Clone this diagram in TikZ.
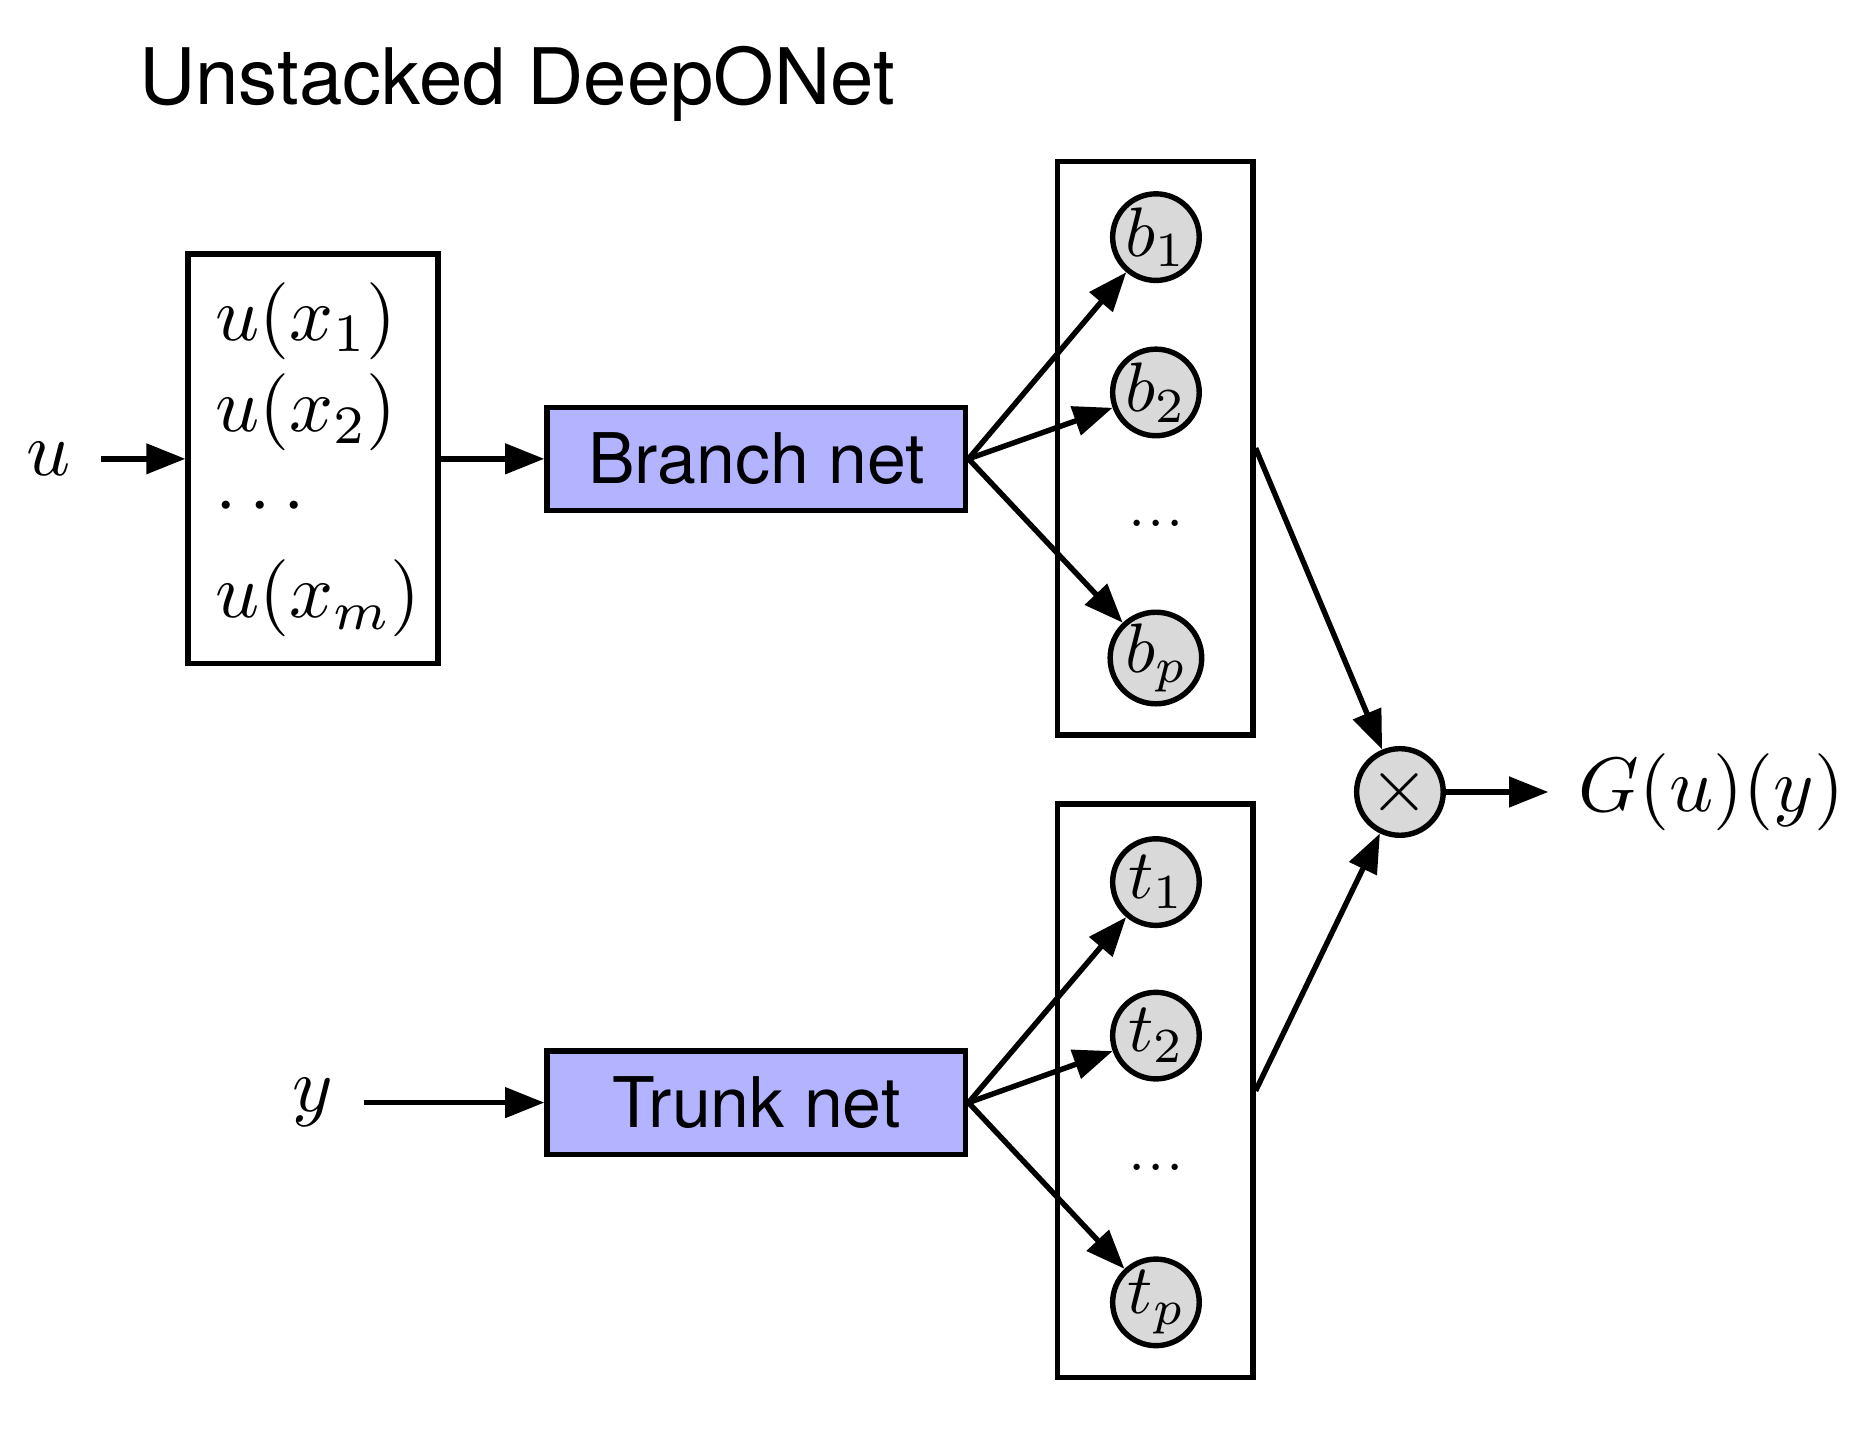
\documentclass[tikz,border=0pt]{standalone}
\usepackage{fontspec}
\setsansfont{TeX Gyre Heros}
\DeclareFontFamily{OML}{cmm}{\skewchar\font'177}
\DeclareFontShape{OML}{cmm}{m}{it}{<-11>cmmi5 <11-16>cmmi7 <16->cmmi10}{}
\DeclareFontShape{OT1}{cmr}{m}{n}{<-11>cmr5 <11-16>cmr7 <16->cmr10}{}
\DeclareFontShape{OMS}{cmsy}{m}{n}{<-11>cmsy5 <11-16>cmsy7 <16->cmsy10}{}
\DeclareFontShape{OMX}{cmex}{m}{n}{<->cmex10}{}
\DeclareMathSizes{18.5}{18.5}{12.95}{9.25}
\usetikzlibrary{arrows.meta}
\definecolor{netfill}{RGB}{179,179,255}
\definecolor{cfill}{RGB}{217,217,217}
\begin{document}
\begin{tikzpicture}[x=0.01cm,y=-0.01cm,
  mfont/.style={font=\fontsize{18.5}{22}\selectfont},
  txt/.style={inner sep=0pt},
  nbox/.style={draw, line width=1.3pt, fill=netfill, minimum width=3.53cm, minimum height=0.87cm, inner sep=0pt, font=\sffamily\fontsize{16.75}{20}\selectfont},
  colbox/.style={draw, line width=1.3pt, minimum width=1.645cm, minimum height=4.835cm, inner sep=0pt},
  unit/.style={circle, draw, line width=1.3pt, fill=cfill, minimum size=0.73cm, inner sep=0pt, font=\fontsize{16.8}{20}\selectfont},
  conn/.style={-{Triangle[length=0.33cm,width=0.25cm]}, line width=1.3pt},
  dotsf/.style={inner sep=0pt, font=\fontsize{18.5}{22}\selectfont},
]
\useasboundingbox (0,0) rectangle (1568,1208);

% title
\node[txt, anchor=base west, font=\sffamily\fontsize{18.7}{22}\selectfont] (title) at (117,88) {Unstacked DeepONet};

% input box
\node[draw, line width=1.3pt, minimum width=2.105cm, minimum height=3.455cm, inner sep=0pt] (inbox) at (264,387) {};
\node[txt, mfont, anchor=base west] (ux1) at (181,287) {$u(x_1)$};
\node[txt, mfont, anchor=base west] (ux2) at (181,364) {$u(x_2)$};
\node[txt, mfont, anchor=base west] (udots) at (181,442) {$\cdots$};
\node[txt, mfont, anchor=base west] (uxm) at (181,521) {$u(x_m)$};

\node[txt, mfont] (u) at (41,387) {$u$};
\node[txt, mfont] (y) at (264,930) {$y$};

% nets
\node[nbox] (branch) at (638,387) {Branch net};
\node[nbox] (trunk) at (638,930) {Trunk net};

% column boxes
\node[colbox] (colB) at (974.5,378) {};
\node[colbox] (colT) at (974.5,920) {};

\node[unit] (b1) at (975,200) {$b_1$};
\node[unit] (b2) at (975,331) {$b_2$};
\node[dotsf] (bdots) at (975,441) {...};
\node[unit] (bp) at (975,555) {$b_p$};

\node[unit] (t1) at (975,744) {$t_1$};
\node[unit] (t2) at (975,873.5) {$t_2$};
\node[dotsf] (tdots) at (975,985) {...};
\node[unit] (tp) at (975,1098.5) {$t_p$};

% product
\node[unit, font=\fontsize{18.5}{22}\selectfont] (times) at (1180.8,668) {$\times$};
\node[txt, mfont, anchor=west] (G) at (1331,668) {$G(u)(y)$};

% connectors
\draw[conn, shorten <=0.25cm] (u) -- (inbox);
\draw[conn] (inbox) -- (branch);
\draw[conn, shorten <=0.25cm] (y) -- (trunk);

\draw[conn] (branch.east) -- (b1);
\draw[conn] (branch.east) -- (b2);
\draw[conn] (branch.east) -- (bp);

\draw[conn] (trunk.east) -- (t1);
\draw[conn] (trunk.east) -- (t2);
\draw[conn] (trunk.east) -- (tp);

\draw[conn] (colB.east) -- (times);
\draw[conn] (colT.east) -- (times);
\draw[conn, shorten >=0.25cm] (times) -- (G);
\end{tikzpicture}
\end{document}
